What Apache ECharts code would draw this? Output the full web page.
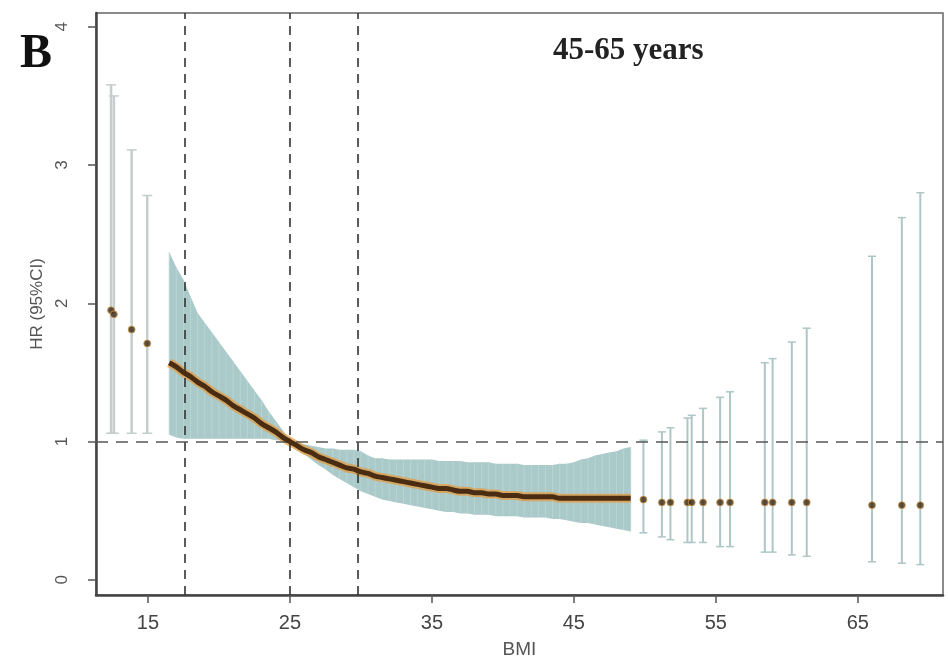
<!DOCTYPE html>
<html>
<head>
<meta charset="utf-8">
<script src="https://cdn.jsdelivr.net/npm/echarts@6/dist/echarts.min.js"></script>
<style>html,body{margin:0;padding:0;background:#fff}#c{width:948px;height:667px}</style>
</head>
<body>
<div id="c"></div>
<script>
// ---- data ----
const xTicks = [15, 25, 35, 45, 55, 65];
const yTicks = [0, 1, 2, 3, 4];
const cutLines = [17.6, 25, 29.8];
const refHR = 1;

// sparse left observations
const bmiLeft = [12.4, 12.6, 13.85, 14.95];
const hrLeft  = [1.95, 1.92, 1.81, 1.71];
const loLeft  = [1.06, 1.06, 1.06, 1.06];
const hiLeft  = [3.58, 3.50, 3.11, 2.78];

// dense middle observations
const bmiDense = [16.5,17,17.5,18,18.5,19,19.5,20,20.5,21,21.5,22,22.5,23,23.5,24,24.5,25,
  25.5,26,26.5,27,27.5,28,28.5,29,29.5,30,
  30.5,31,31.5,32,32.5,33,33.5,34,34.5,35,
  35.5,36,36.5,37,37.5,38,38.5,39,39.5,40,
  40.5,41,41.5,42,42.5,43,43.5,44,44.5,45,
  45.5,46,46.5,47,47.5,48,48.5,49];
const hrDense = [1.57,1.54,1.50,1.47,1.43,1.40,1.36,1.33,1.30,1.26,1.23,1.20,1.17,1.13,1.10,1.07,1.03,1.00,
  0.97,0.94,0.92,0.89,0.87,0.85,0.83,0.81,0.80,0.78,
  0.77,0.75,0.74,0.73,0.72,0.71,0.70,0.69,0.68,0.67,
  0.66,0.66,0.65,0.64,0.64,0.63,0.63,0.62,0.62,0.61,
  0.61,0.61,0.60,0.60,0.60,0.60,0.60,0.59,0.59,0.59,
  0.59,0.59,0.59,0.59,0.59,0.59,0.59,0.59];
const loDense = [1.05,1.03,1.02,1.02,1.02,1.02,1.02,1.02,1.02,1.02,1.02,1.02,1.02,1.02,1.02,1.01,1.01,0.99,
  0.95,0.91,0.87,0.83,0.80,0.76,0.73,0.70,0.67,0.64,
  0.62,0.60,0.58,0.57,0.56,0.55,0.54,0.53,0.52,0.51,
  0.50,0.49,0.49,0.48,0.48,0.47,0.47,0.47,0.46,0.46,
  0.46,0.46,0.45,0.45,0.45,0.45,0.44,0.44,0.43,0.42,
  0.41,0.41,0.40,0.39,0.38,0.37,0.36,0.35];
const hiDense = [2.37,2.26,2.17,2.05,1.93,1.86,1.79,1.72,1.65,1.58,1.51,1.44,1.37,1.30,1.22,1.15,1.08,1.01,
  0.99,0.98,0.97,0.96,0.95,0.95,0.94,0.94,0.94,0.93,
  0.90,0.88,0.88,0.87,0.87,0.87,0.87,0.87,0.87,0.87,
  0.86,0.86,0.86,0.86,0.85,0.85,0.85,0.85,0.84,0.84,
  0.84,0.84,0.83,0.83,0.83,0.83,0.83,0.84,0.84,0.85,
  0.87,0.88,0.90,0.91,0.92,0.93,0.95,0.96];

// sparse right observations
const bmiRight = [49.9,51.2,51.8,53.0,53.3,54.1,55.3,56.0,58.45,59.0,60.35,61.4,66.0,68.1,69.4];
const hrRight  = [0.58,0.56,0.56,0.56,0.56,0.56,0.56,0.56,0.56,0.56,0.56,0.56,0.54,0.54,0.54];
const loRight  = [0.34,0.31,0.29,0.27,0.27,0.27,0.24,0.24,0.20,0.20,0.18,0.17,0.13,0.12,0.11];
const hiRight  = [1.01,1.07,1.10,1.17,1.19,1.24,1.32,1.36,1.57,1.60,1.72,1.82,2.34,2.62,2.80];

// ---- chart ----
const chart = echarts.init(document.getElementById('c'));
const zip = (a, b, c) => a.map((v, i) => c ? [v, b[i], c[i]] : [v, b[i]]);

function errorBarRender(color, width, cap) {
  return function (params, api) {
    const x = api.value(0), lo = api.value(1), hi = api.value(2);
    const pLo = api.coord([x, lo]);
    const pHi = api.coord([x, hi]);
    const st = { stroke: color, lineWidth: width };
    const children = [
      { type: 'line', shape: { x1: pLo[0], y1: pLo[1], x2: pHi[0], y2: pHi[1] }, style: st }
    ];
    if (cap > 0) {
      children.push({ type: 'line', shape: { x1: pHi[0] - cap, y1: pHi[1], x2: pHi[0] + cap, y2: pHi[1] }, style: { stroke: color, lineWidth: 1.5 } });
      children.push({ type: 'line', shape: { x1: pLo[0] - cap, y1: pLo[1], x2: pLo[0] + cap, y2: pLo[1] }, style: { stroke: color, lineWidth: 1.5 } });
    }
    return { type: 'group', children };
  };
}

function bandRender(params, api) {
  if (params.dataIndex !== 0) return null;
  const pts = [];
  for (let i = 0; i < bmiDense.length; i++) pts.push(api.coord([bmiDense[i], hiDense[i]]));
  for (let i = bmiDense.length - 1; i >= 0; i--) pts.push(api.coord([bmiDense[i], loDense[i]]));
  return { type: 'polygon', shape: { points: pts }, style: { fill: '#a5c6c6', opacity: 0.95 } };
}

const option = {
  animation: false,
  backgroundColor: '#ffffff',
  grid: { left: 96, right: 5, top: 13, bottom: 72, show: true, borderColor: '#666', borderWidth: 1.5, containLabel: false },
  xAxis: {
    type: 'value', min: 11.34, max: 71,
    name: 'BMI', nameLocation: 'middle', nameGap: 45,
    nameTextStyle: { fontFamily: 'Liberation Sans', fontSize: 19, color: '#555' },
    axisLine: { show: true, onZero: false, lineStyle: { color: '#444', width: 2.5 } },
    axisTick: { show: true, length: 8, customValues: xTicks, lineStyle: { color: '#555', width: 1.5 } },
    axisLabel: { customValues: xTicks, margin: 18, fontFamily: 'Liberation Sans', fontSize: 20, color: '#444' },
    splitLine: { show: false }
  },
  yAxis: {
    type: 'value', min: -0.11, max: 4.1,
    name: 'HR (95%CI)', nameLocation: 'middle', nameGap: 44, nameRotate: 90,
    nameTextStyle: { fontFamily: 'Liberation Sans', fontSize: 17, color: '#555' },
    axisLine: { show: true, onZero: false, lineStyle: { color: '#444', width: 2.5 } },
    axisTick: { show: true, length: 8, customValues: yTicks, lineStyle: { color: '#555', width: 1.5 } },
    axisLabel: { customValues: yTicks, rotate: 90, margin: 25, fontFamily: 'Liberation Sans', fontSize: 17, color: '#555' },
    splitLine: { show: false }
  },
  graphic: [
    { type: 'text', left: 20, top: 31, style: { text: 'B', font: 'bold 48px "Liberation Serif"', fill: '#111' } },
    { type: 'text', left: 553, top: 35, style: { text: '45-65 years', font: 'bold 31px "Liberation Serif"', fill: '#222' } }
  ],
  series: [
    { type: 'custom', name: 'band', z: 1, data: [[bmiDense[0], loDense[0], hiDense[0]]], renderItem: bandRender, silent: true },
    { type: 'custom', name: 'denseBars', z: 2, data: zip(bmiDense, loDense, hiDense), renderItem: errorBarRender('#b9d4d4', 1, 0), silent: true },
    { type: 'custom', name: 'leftBars', z: 2, data: zip(bmiLeft, loLeft, hiLeft), renderItem: errorBarRender('#c5cdcd', 2.5, 5), silent: true },
    { type: 'custom', name: 'rightBars', z: 2, data: zip(bmiRight, loRight, hiRight), renderItem: errorBarRender('#aec6c6', 2, 4), silent: true },
    {
      type: 'line', name: 'refs', z: 3, data: [], silent: true,
      markLine: {
        silent: true, symbol: 'none', label: { show: false }, animation: false,
        data: [
          ...cutLines.map(v => ({ xAxis: v, lineStyle: { color: '#333', width: 1.6, type: [9, 7] } })),
          { yAxis: refHR, lineStyle: { color: '#555', width: 1.6, type: [12, 8] } }
        ]
      }
    },
    { type: 'line', name: 'glow', z: 4, data: zip(bmiDense, hrDense), showSymbol: false, silent: true, smooth: 0.3,
      lineStyle: { color: 'rgba(226,156,64,0.75)', width: 9 } },
    { type: 'line', name: 'hr', z: 5, data: zip(bmiDense, hrDense), showSymbol: false, silent: true, smooth: 0.3,
      lineStyle: { color: '#4a2c12', width: 5 } },
    { type: 'scatter', name: 'pts', z: 6, symbolSize: 7, silent: true,
      data: zip(bmiLeft, hrLeft).concat(zip(bmiRight, hrRight)),
      itemStyle: { color: '#3a2814', borderColor: '#d9a050', borderWidth: 1 } }
  ]
};
chart.setOption(option);
</script>
</body>
</html>
